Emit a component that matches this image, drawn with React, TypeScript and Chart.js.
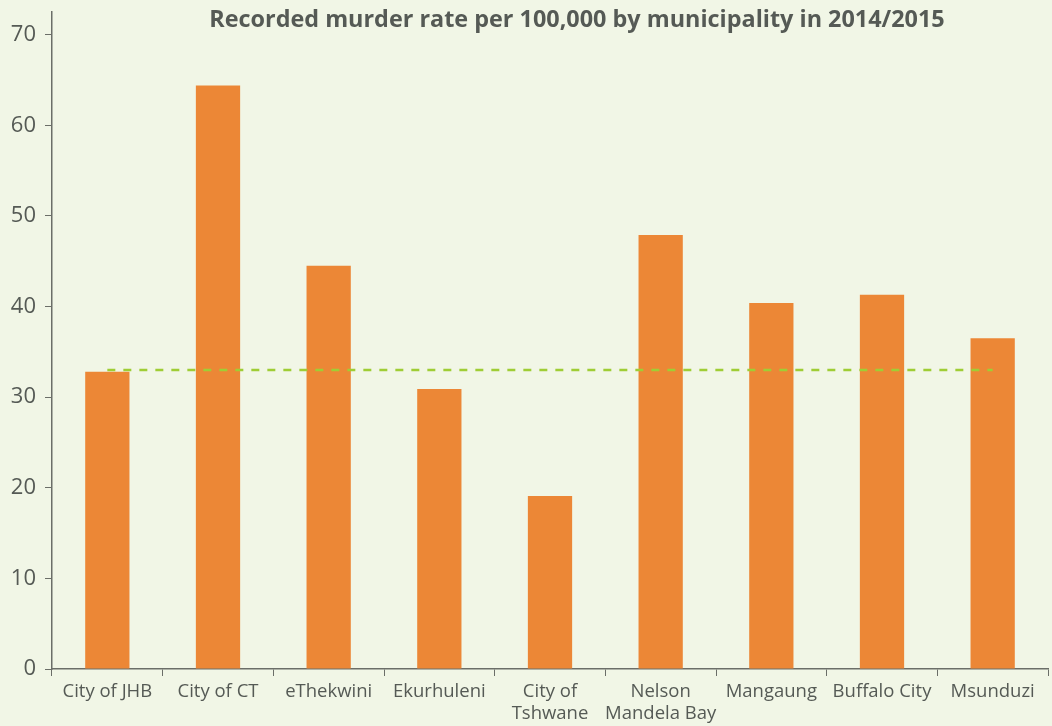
import React, { useEffect, useRef } from "react";
import { Chart, registerables } from "chart.js";

Chart.register(...registerables);

const categories: (string | string[])[] = [
  "City of JHB",
  "City of CT",
  "eThekwini",
  "Ekurhuleni",
  ["City of", "Tshwane"],
  ["Nelson", "Mandela Bay"],
  "Mangaung",
  "Buffalo City",
  "Msunduzi",
];
const murderRates = [32.8, 64.4, 44.5, 30.9, 19.1, 47.9, 40.4, 41.3, 36.5];
const nationalAverage = [33.0, 33.0, 33.0, 33.0, 33.0, 33.0, 33.0, 33.0, 33.0];
const yTicks = [0, 10, 20, 30, 40, 50, 60, 70];
const titleText = "Recorded murder rate per 100,000 by municipality in 2014/2015";

const FONT = "'Open Sans', 'Noto Sans', sans-serif";
const TEXT = "#555a55";
const AXIS = "#6b6e68";

const titlePlugin = {
  id: "customTitle",
  afterDraw(chart: any) {
    const ctx = chart.ctx;
    ctx.save();
    ctx.font = `bold 23.4px ${FONT}`;
    ctx.fillStyle = TEXT;
    ctx.textAlign = "center";
    ctx.textBaseline = "alphabetic";
    ctx.fillText(titleText, 577, 27);
    ctx.restore();
  },
};

const bgPlugin = {
  id: "bg",
  beforeDraw(chart: any) {
    const ctx = chart.ctx;
    ctx.save();
    ctx.fillStyle = "#f1f6e6";
    ctx.fillRect(0, 0, chart.width, chart.height);
    ctx.restore();
  },
};

export default function App() {
  const ref = useRef<HTMLCanvasElement>(null);
  useEffect(() => {
    if (!ref.current) return;
    const chart = new Chart(ref.current, {
      type: "bar",
      data: {
        labels: categories,
        datasets: [
          {
            type: "line",
            data: nationalAverage,
            borderColor: "#9fcd35",
            borderWidth: 2.5,
            borderDash: [8, 8],
            pointRadius: 0,
            fill: false,
            order: 0,
          } as any,
          {
            type: "bar",
            data: murderRates,
            backgroundColor: "#ec8736",
            barPercentage: 0.4,
            categoryPercentage: 1,
            order: 1,
          },
        ],
      },
      options: {
        responsive: false,
        animation: false,
        layout: { padding: { top: 12, right: 4, left: 0, bottom: 0 } },
        plugins: {
          legend: { display: false },
          title: { display: false },
          tooltip: { enabled: false },
        },
        scales: {
          x: {
            grid: {
              display: true,
              drawOnChartArea: false,
              drawTicks: true,
              tickLength: 7,
              color: AXIS,
              offset: true,
            },
            border: { display: true, color: AXIS, width: 1.5 },
            ticks: {
              color: TEXT,
              font: { family: FONT, size: 18.5, lineHeight: 1.18 },
              padding: 5,
              maxRotation: 0,
              autoSkip: false,
            },
            afterFit(scale: any) {
              scale.height = 57;
              scale.paddingLeft = 0;
              scale.paddingRight = 0;
            },
          },
          y: {
            min: 0,
            max: 72.5,
            grid: {
              display: true,
              drawOnChartArea: false,
              drawTicks: true,
              tickLength: 7,
              color: AXIS,
            },
            border: { display: true, color: AXIS, width: 1.5 },
            ticks: {
              color: TEXT,
              font: { family: FONT, size: 22 },
              padding: 9,
              stepSize: 10,
            },
            afterBuildTicks(scale: any) {
              scale.ticks = yTicks.map((v) => ({ value: v }));
            },
            afterFit(scale: any) {
              scale.width = 52;
              scale.paddingTop = 0;
              scale.paddingBottom = 0;
            },
          },
        },
      },
      plugins: [bgPlugin, titlePlugin],
    });
    return () => chart.destroy();
  }, []);
  return (
    <div style={{ position: "fixed", left: 0, top: 0, width: 1052, height: 726, background: "#f1f6e6" }}>
      <canvas ref={ref} width={1052} height={726} style={{ display: "block" }} />
    </div>
  );
}
